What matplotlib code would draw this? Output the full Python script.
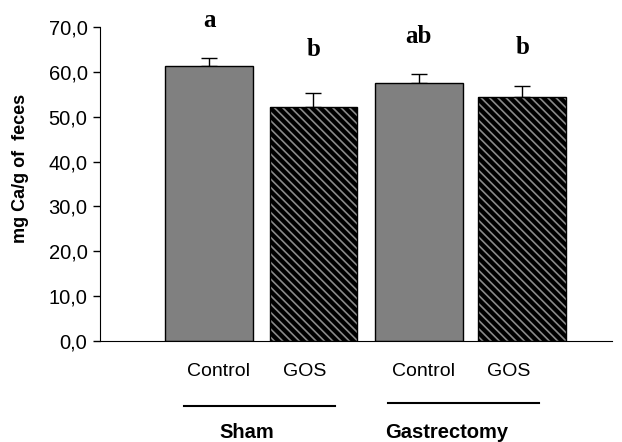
import matplotlib
matplotlib.use("Agg")
import matplotlib.pyplot as plt
from matplotlib.ticker import FuncFormatter

groups = ["Sham", "Gastrectomy"]
tick_labels = ["Control", "GOS", "Control", "GOS"]
values = [61.3, 52.2, 57.5, 54.4]
errors = [1.8, 3.1, 2.0, 2.4]
letters = ["a", "b", "ab", "b"]
letter_y = [71.5, 65.0, 67.8, 65.5]

plt.rcParams['font.family'] = ['Liberation Sans', 'DejaVu Sans']
plt.rcParams['hatch.linewidth'] = 1.2
plt.rcParams['hatch.color'] = '#8a8a8a'

fig = plt.figure(figsize=(6.22, 4.42), dpi=100)
ax = fig.add_axes([100/622, 101/442, 512/622, 314/442])

x = [0, 1, 2.01, 3.0]
label_offsets = [0.09, -0.08, 0.04, -0.13]
w = 0.84
for i in range(4):
    if i % 2 == 0:
        ax.bar(x[i], values[i], width=w, color='#808080', edgecolor='black', linewidth=1.0, zorder=2)
    else:
        ax.bar(x[i], values[i], width=w, color='black', edgecolor='#8a8a8a', hatch='\\\\\\\\', linewidth=0, zorder=2)
        ax.bar(x[i], values[i], width=w, fill=False, edgecolor='black', linewidth=1.0, zorder=3)

ax.errorbar(x, values, yerr=[[0]*4, errors], fmt='none', ecolor='black', elinewidth=1.0, capsize=6, capthick=1.0, zorder=1)

for i in range(4):
    ax.text(x[i], letter_y[i], letters[i], ha='center', va='center', fontsize=18, fontweight='bold',
            family='Liberation Serif', clip_on=False)

ax.set_ylim(0, 70)
ax.set_xlim(-1.045, 3.86)
ax.set_yticks(range(0, 71, 10))
ax.yaxis.set_major_formatter(FuncFormatter(lambda v, p: f"{v:.1f}".replace('.', ',')))
ax.tick_params(axis='y', labelsize=14.5, length=5, width=1, direction='out', pad=4)
ax.set_xticks([xi + o for xi, o in zip(x, label_offsets)])
ax.set_xticklabels(tick_labels, fontsize=14)
ax.tick_params(axis='x', length=0, pad=16)
ax.spines['top'].set_visible(False)
ax.spines['right'].set_visible(False)
fig.text(21/622, 1-168/442, "mg Ca/g of  feces", rotation=90, ha='center', va='center', fontsize=13, fontweight='bold')

# group lines and labels
fig.add_artist(plt.Line2D([184/622, 335/622], [1-406/442, 1-406/442], color='black', lw=1.5))
fig.add_artist(plt.Line2D([388/622, 539/622], [1-403/442, 1-403/442], color='black', lw=1.5))
fig.text(247/622, 1-433/442, groups[0], ha='center', va='center', fontsize=14.5, fontweight='bold')
fig.text(447/622, 1-433/442, groups[1], ha='center', va='center', fontsize=14.5, fontweight='bold')

fig.savefig("out.png", dpi=100)
